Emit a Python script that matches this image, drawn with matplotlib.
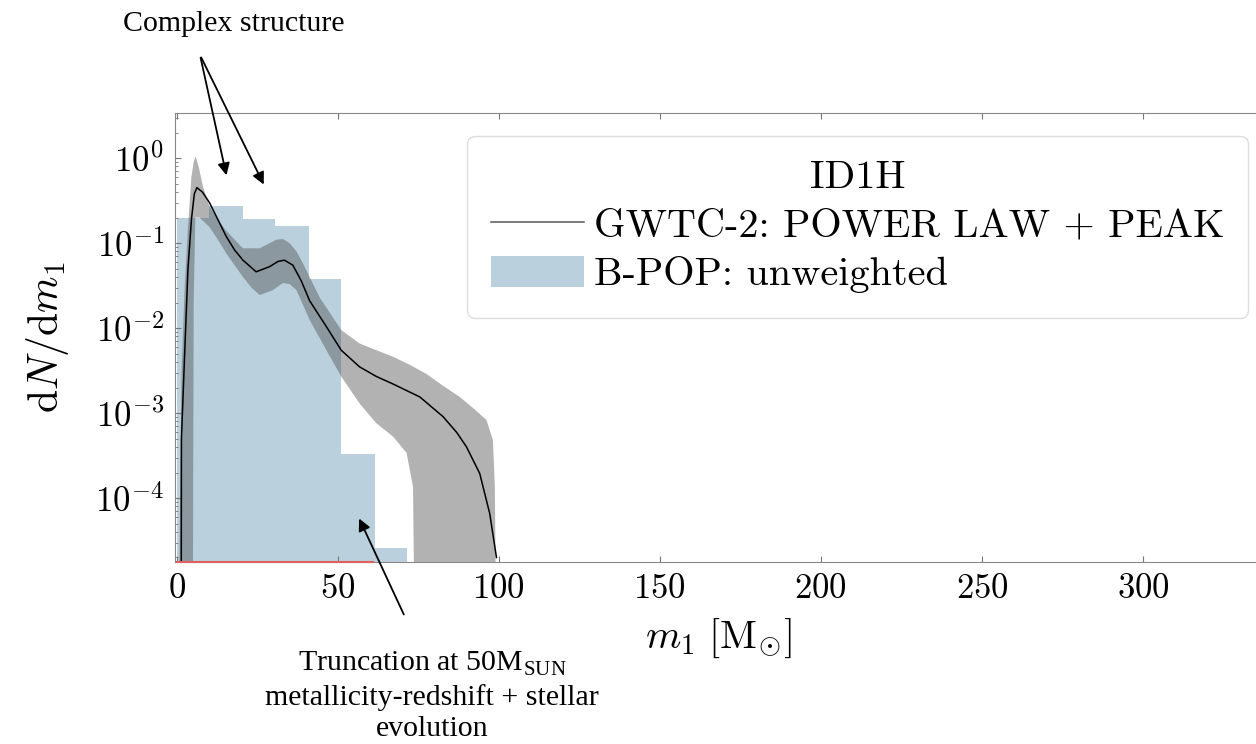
import numpy as np
import matplotlib
matplotlib.use("Agg")
import matplotlib.pyplot as plt
from matplotlib.patches import FancyArrowPatch

plt.rcParams['font.family'] = 'serif'
plt.rcParams['font.serif'] = ['cmr10', 'DejaVu Serif']
plt.rcParams['mathtext.fontset'] = 'cm'
plt.rcParams['axes.formatter.use_mathtext'] = True
plt.rcParams['axes.unicode_minus'] = False

# B-POP histogram (unweighted), bin edges in Msun and dN/dm1
hist_edges = [0.0, 10.0, 20.5, 30.5, 41.0, 51.0, 61.5, 71.5]
hist_vals = [0.20, 0.27, 0.19, 0.16, 0.038, 3.3e-4, 2.6e-5]

# GWTC-2 Power Law + Peak: median
med_m = [1.4, 1.5, 2.5, 3.5, 4.6, 5.5, 6.3, 8.0, 10.2, 12.8, 15.4, 18.0, 20.6,
         24.7, 28.9, 31.5, 33.5, 36.1, 38.7, 41.3, 46.5, 51.1, 56.8, 62.0,
         67.2, 75.5, 82.7, 87.0, 90.0, 94.1, 97.2, 99.3]
med_val = [1e-6, 5e-4, 5e-3, 0.048, 0.19, 0.38, 0.45, 0.40, 0.30, 0.19, 0.12,
           0.083, 0.063, 0.046, 0.053, 0.061, 0.063, 0.055, 0.036, 0.021,
           0.0104, 5.5e-3, 3.5e-3, 2.7e-3, 2.2e-3, 1.55e-3, 9.1e-4, 5.9e-4,
           4.0e-4, 1.95e-4, 6.6e-5, 2.0e-5]

# 90% band: upper edge
up_m = [0.5, 1.5, 2.5, 3.5, 4.6, 5.3, 5.9, 7.0, 8.2, 10.2, 12.8, 15.4, 18.0,
        20.6, 25.8, 31.0, 33.0, 35.1, 37.2, 39.2, 44.4, 51.1, 56.8, 62.0,
        67.2, 72.4, 77.5, 82.7, 87.9, 92.0, 96.2, 98.2, 98.8, 99.3]
up_val = [1e-6, 3e-3, 0.03, 0.15, 0.6, 0.9, 1.05, 0.75, 0.46, 0.27, 0.19, 0.14,
          0.11, 0.087, 0.087, 0.11, 0.112, 0.10, 0.08, 0.058, 0.023, 9.5e-3,
          6.6e-3, 5.5e-3, 4.6e-3, 3.7e-3, 2.9e-3, 2.1e-3, 1.55e-3, 1.15e-3,
          8.3e-4, 4.8e-4, 1.35e-4, 1e-6]

# 90% band: lower edge
lo_m = [5.0, 5.3, 5.8, 7.1, 10.2, 12.8, 15.4, 18.0, 20.6, 23.2, 25.8, 29.9,
        33.0, 35.1, 37.2, 41.3, 46.5, 51.1, 56.8, 62.0, 67.2, 71.4, 73.4, 74.0]
lo_val = [1e-6, 0.02, 0.2, 0.2, 0.155, 0.11, 0.076, 0.055, 0.04, 0.03, 0.0245,
          0.028, 0.034, 0.033, 0.028, 0.0125, 5.5e-3, 2.7e-3, 1.3e-3, 7.6e-4,
          5.3e-4, 3.4e-4, 1.35e-4, 1e-6]

# near-zero series along the bottom
red_m = [0.0, 61.0]

xticks = [0, 50, 100, 150, 200, 250, 300]
yticks = [1e0, 1e-1, 1e-2, 1e-3, 1e-4]
ylo, yhi = 1.77e-5, 3.4

fig = plt.figure(figsize=(12.56, 7.44), dpi=100)
ax = fig.add_axes([175 / 1256, 182 / 744, 1129 / 1256, 449 / 744])

band_x = np.concatenate([up_m, lo_m[::-1]])
band_y = np.concatenate([up_val, lo_val[::-1]])
ax.fill(band_x, band_y, color='#555555', alpha=0.45, lw=0, zorder=2)
ax.stairs(hist_vals, hist_edges, baseline=1e-9, fill=True, color='#a9c5d4',
          alpha=0.8, zorder=1, label='B-POP: unweighted')
ax.plot(med_m, med_val, color='k', lw=1.1, zorder=3,
        label='GWTC-2: POWER LAW + PEAK')
ax.plot(red_m, [ylo, ylo], color='#e06060', lw=1.5, clip_on=False, zorder=4)

ax.set_yscale('log')
ax.set_xlim(-0.5, 350)
ax.set_ylim(ylo, yhi)
ax.set_xticks(xticks)
ax.set_yticks(yticks)
ax.tick_params(which='both', direction='in', top=True, right=True,
               color='#777777', labelsize=25, pad=8)
ax.tick_params(which='minor', length=2.5)
ax.tick_params(which='major', length=4)
for s in ax.spines.values():
    s.set_color('#888888')

ax.set_xlabel(r'$m_1\ [\mathrm{M}_{\odot}]$', fontsize=29)
ax.xaxis.set_label_coords(0.481, -0.122)
ax.set_ylabel(r'$\mathrm{d}N/\mathrm{d}m_1$', fontsize=30)
ax.yaxis.set_label_coords(-0.092, 0.5)

h, l = ax.get_legend_handles_labels()
leg = ax.legend(h[::-1], l[::-1], title='ID1H', fontsize=29, title_fontsize=29,
                loc='upper left', bbox_to_anchor=(467 / 1256, 1 - 136 / 744),
                bbox_transform=fig.transFigure, borderaxespad=0,
                borderpad=0.6, handlelength=2.3, handleheight=0.8,
                handletextpad=0.25, labelspacing=0.28, framealpha=1,
                edgecolor='#dddddd', fancybox=True)
leg.get_lines()[0].set_color('#555555')

# annotations (Times-like)
tfont = dict(family='Liberation Serif', fontsize=21.5)
fig.text(234 / 1256, 1 - 24 / 744, 'Complex structure', ha='center', va='center', **tfont)
for tip in [(227, 178), (265, 187)]:
    fig.add_artist(FancyArrowPatch(
        (200 / 1256, 1 - 55 / 744), (tip[0] / 1256, 1 - tip[1] / 744),
        transform=fig.transFigure, arrowstyle='-|>', mutation_scale=18,
        color='k', lw=1.3))
fig.add_artist(FancyArrowPatch(
    (405 / 1256, 1 - 617 / 744), (358 / 1256, 1 - 516 / 744),
    transform=fig.transFigure, arrowstyle='-|>', mutation_scale=18,
    color='k', lw=1.3))
fig.text(432 / 1256, 1 - 696 / 744,
         'Truncation at 50M$_{\\mathregular{SUN}}$\nmetallicity-redshift + stellar\nevolution',
         ha='center', va='center', linespacing=1.25, **tfont)

fig.savefig('out.png', dpi=100)
